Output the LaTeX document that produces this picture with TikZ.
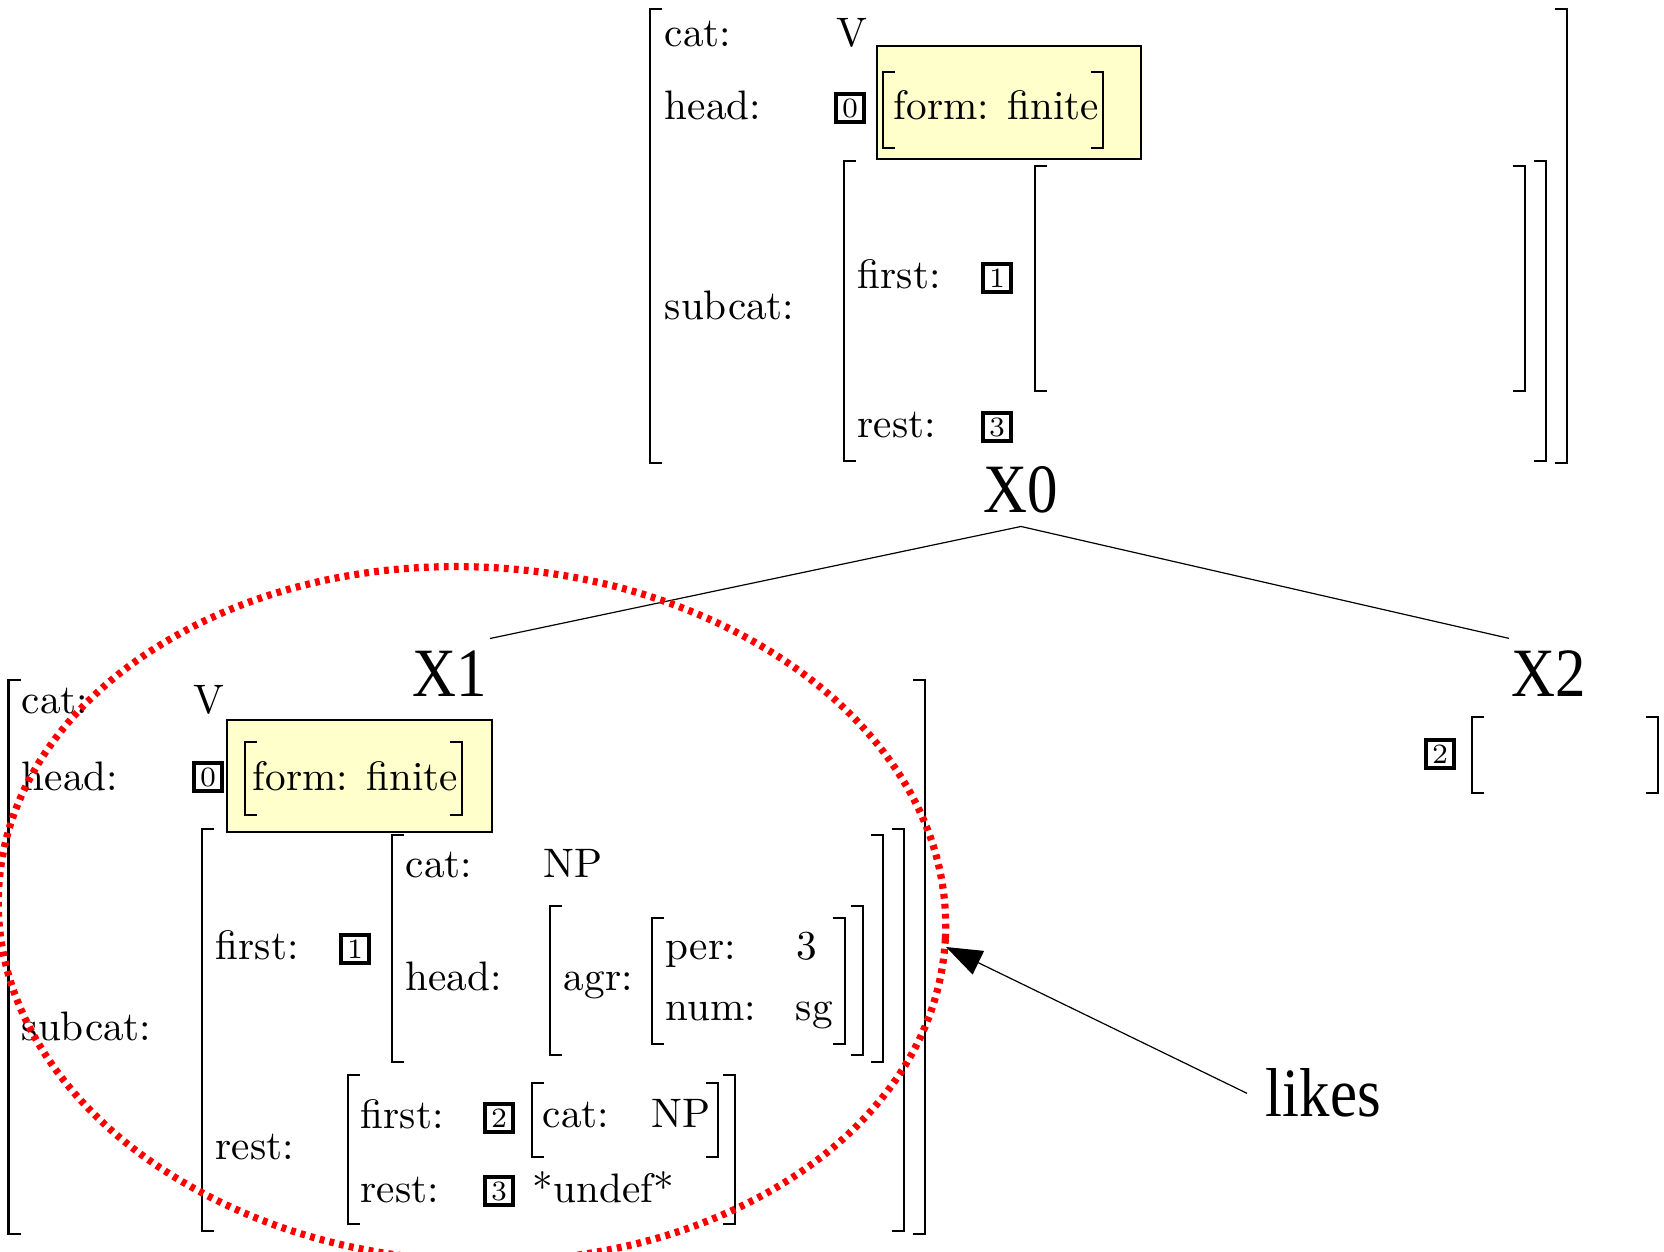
\documentclass[tikz,border=0pt]{standalone}
\usepackage{fontspec}
\usepackage{tikz}
\usetikzlibrary{arrows.meta}

\newfontfamily\treefont[FakeStretch=0.88]{Liberation Serif}
\definecolor{hiliteyellow}{RGB}{255,255,204}

\tikzset{
  avm/.style={anchor=base west, inner sep=0pt, font=\fontsize{10.3}{12}\selectfont},
  tag/.style={draw, line width=1.15pt, minimum size=7pt, inner sep=0pt, font=\fontsize{7}{8}\selectfont},
  bracket/.style={line width=0.6pt},
  hilite/.style={draw, line width=0.3pt, fill=hiliteyellow},
  treelabel/.style={anchor=base, inner xsep=0.5pt, inner ysep=3pt, font=\fontsize{17.3}{20}\treefont},
  branch/.style={line width=0.3pt},
  redloop/.style={red, line width=1.8pt, dash pattern=on 1.2pt off 1.3pt},
}

% left and right square bracket: x-left, x-right, y-top, y-bottom
\newcommand{\avmbrackets}[4]{%
  \draw[bracket] (#1+12,#3) -- (#1,#3) -- (#1,#4) -- (#1+12,#4);
  \draw[bracket] (#2-12,#3) -- (#2,#3) -- (#2,#4) -- (#2-12,#4);}

\begin{document}
\begin{tikzpicture}[x=0.25pt,y=0.25pt,yscale=-1,xscale=1]
\useasboundingbox (0,0) rectangle (1664,1252);

%Shape: AVM of X0
\avmbrackets{650}{1567}{9}{463}
% Text Node
\node[avm] (t-cat) at (664,47) {cat:};
\node[avm] (t-catv) at (836,47) {V};
\node[avm] (t-head) at (664,120) {head:};
\node[tag] (t-tag0) at (850,108) {0};
\draw[hilite] (877,46) rectangle (1141,159);
\avmbrackets{883}{1103}{72}{148}
\node[avm] (t-form) at (893,120) {form: finite};
\node[avm] (t-subcat) at (664,320) {subcat:};
\avmbrackets{844}{1546}{161}{461}
\node[avm] (t-first) at (857,289) {first:};
\node[tag] (t-tag1) at (997,278) {1};
\avmbrackets{1035}{1525}{166}{391}
\node[avm] (t-rest) at (857,438) {rest:};
\node[tag] (t-tag3) at (997,427) {3};

%Tree
\node[treelabel] (x0) at (1021,513) {X0};
\node[treelabel] (x1) at (450,697) {X1};
\node[treelabel] (x2) at (1549,697) {X2};
\draw[branch] (x0.south) -- (x1.north east);
\draw[branch] (x0.south) -- (x2.north west);

%Shape: AVM of X1
\avmbrackets{8.5}{925}{680}{1234}
\node[avm] (l-cat) at (21,714) {cat:};
\node[avm] (l-catv) at (193,714) {V};
\node[avm] (l-head) at (21,791) {head:};
\node[tag] (l-tag0) at (208,777) {0};
\draw[hilite] (227,720) rectangle (492,832);
\avmbrackets{245}{462}{742}{815}
\node[avm] (l-form) at (252,791) {form: finite};
\node[avm] (l-subcat) at (21,1041) {subcat:};
\avmbrackets{202}{904}{829}{1231}
% first of subcat
\node[avm] (l-first) at (215,960) {first:};
\node[tag] (l-tag1) at (355,949) {1};
\avmbrackets{392}{883}{835}{1062}
\node[avm] (l-npcat) at (405,878) {cat:};
\node[avm] (l-npcatv) at (543,878) {NP};
\node[avm] (l-nphead) at (405,990) {head:};
\avmbrackets{550}{863}{906}{1055}
\node[avm] (l-agr) at (563,990) {agr:};
\avmbrackets{652}{845}{918}{1044}
\node[avm] (l-per) at (665,960) {per:};
\node[avm] (l-perv) at (796,960) {3};
\node[avm] (l-num) at (665,1020) {num:};
\node[avm] (l-numv) at (795,1020) {sg};
% rest of subcat
\node[avm] (l-rest) at (215,1160) {rest:};
\avmbrackets{348}{735}{1075}{1224}
\node[avm] (l-rfirst) at (360,1129) {first:};
\node[tag] (l-tag2) at (499,1118) {2};
\avmbrackets{532}{718}{1083}{1157}
\node[avm] (l-rcat) at (542,1128) {cat:};
\node[avm] (l-rcatv) at (651,1128) {NP};
\node[avm] (l-rrest) at (360,1203) {rest:};
\node[tag] (l-tag3) at (499,1191) {3};
\node[avm] (l-undef) at (532,1203) {*undef*};

%Shape: AVM of X2
\node[tag] (r-tag2) at (1440,754) {2};
\avmbrackets{1472}{1658}{717}{793}

%Shape: Ellipse
\draw[redloop, rotate around={3:(472,914)}] (472,914) ellipse [x radius=474, y radius=347];

%Arrow
\coordinate (tip) at (946,947);
\node[treelabel, anchor=base west, inner xsep=4.5pt] (likes) at (1247,1117) {likes};
\draw[branch, -{Triangle[length=9pt,width=6.5pt]}] (likes.west) -- (tip);

\end{tikzpicture}
\end{document}
